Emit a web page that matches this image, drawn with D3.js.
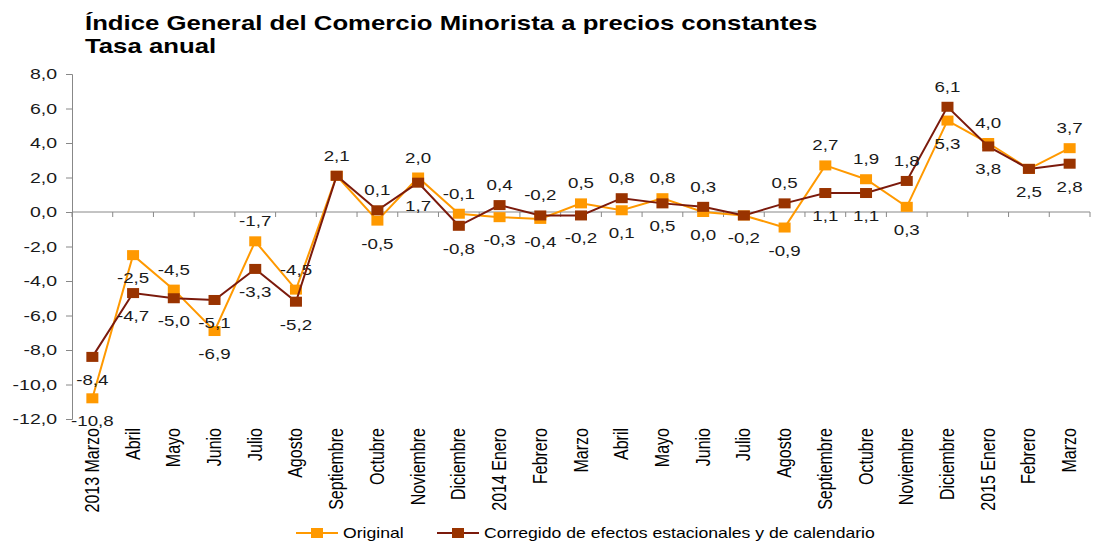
<!DOCTYPE html>
<html>
<head>
<meta charset="utf-8">
<script src="https://cdn.jsdelivr.net/npm/d3@7"></script>
<style>
  body { margin: 0; background: #fff; }
  text { font-family: "Liberation Sans", Arial, sans-serif; fill: #1a1a1a; }
</style>
</head>
<body>
<div id="chart"></div>
<script>
// months shown on the x axis
var months = ["2013 Marzo", "Abril", "Mayo", "Junio", "Julio", "Agosto", "Septiembre", "Octubre",
  "Noviembre", "Diciembre", "2014 Enero", "Febrero", "Marzo", "Abril", "Mayo", "Junio", "Julio",
  "Agosto", "Septiembre", "Octubre", "Noviembre", "Diciembre", "2015 Enero", "Febrero", "Marzo"];

var original = [-10.8, -2.5, -4.5, -6.9, -1.7, -4.5, 2.1, -0.5, 2.0, -0.1, -0.3, -0.4, 0.5,
  0.1, 0.8, 0.0, -0.2, -0.9, 2.7, 1.9, 0.3, 5.3, 4.0, 2.5, 3.7];
var corregido = [-8.4, -4.7, -5.0, -5.1, -3.3, -5.2, 2.1, 0.1, 1.7, -0.8, 0.4, -0.2, -0.2,
  0.8, 0.5, 0.3, -0.2, 0.5, 1.1, 1.1, 1.8, 6.1, 3.8, 2.5, 2.8];

// where each value label sits: a = above the point, b = below, "" = shared with the other series
var posOriginal = ["b","b","a","b","a","a","","b","a","a","b","b","a","b","a","b","","b","a","a","b","b","a","","a"];
var posCorregido = ["b","b","b","b","b","b","a","a","b","b","a","a","b","a","b","a","b","a","b","b","a","a","b","b","b"];

var yTicks = [8, 6, 4, 2, 0, -2, -4, -6, -8, -10, -12];

var W = 1093, H = 541;
var svg = d3.select("#chart").append("svg").attr("width", W).attr("height", H);

var fmt = function (v) { return d3.format(".1f")(v).replace(".", ",").replace("\u2212", "-"); };

// the source picture is stretched sideways, so text gets a horizontal scale
function stext(g, x, y, s, size, sx, anchor) {
  return g.append("text")
    .attr("transform", "translate(" + x + "," + y + ") scale(" + sx + ",1)")
    .attr("text-anchor", anchor || "start")
    .style("font-size", size + "px")
    .text(s);
}

stext(svg, 85, 30, "Índice General del Comercio Minorista a precios constantes", 19.5, 1.32)
  .style("font-weight", "bold").style("fill", "#000");
stext(svg, 85, 53, "Tasa anual", 19.5, 1.32)
  .style("font-weight", "bold").style("fill", "#000");

var x = d3.scaleBand().domain(d3.range(months.length)).range([72, 1090]);
var y = d3.scaleLinear().domain([-12, 8]).range([419, 74]);
var cx = function (i) { return x(i) + x.bandwidth() / 2; };

// y axis
var yAxis = svg.append("g").attr("transform", "translate(72,0)")
  .call(d3.axisLeft(y).tickValues(yTicks).tickSize(6).tickFormat(""));
yAxis.selectAll("path, line").attr("stroke", "#888");
yTicks.forEach(function (t) {
  stext(svg, 57, y(t) + 5, fmt(t), 15, 1.3, "end");
});

// x axis at zero, ticks between months
var xg = svg.append("g");
xg.append("line").attr("x1", 72).attr("x2", 1090).attr("y1", y(0)).attr("y2", y(0)).attr("stroke", "#888");
xg.selectAll(".xt").data(d3.range(months.length + 1)).enter().append("line")
  .attr("x1", function (i) { return 72 + i * x.step(); })
  .attr("x2", function (i) { return 72 + i * x.step(); })
  .attr("y1", y(0)).attr("y2", y(0) + 5).attr("stroke", "#888");

svg.selectAll(".mlabel").data(months).enter().append("text")
  .attr("transform", function (d, i) { return "translate(" + (cx(i) + 6.5) + ",428) rotate(-90) scale(1,1.25)"; })
  .attr("text-anchor", "end")
  .style("font-size", "16px").style("fill", "#000")
  .text(function (d) { return d; });

var line = d3.line().x(function (d, i) { return cx(i); }).y(function (d) { return y(d); });

function drawSeries(vals, pos, lineColor, markColor) {
  svg.append("path").datum(vals).attr("d", line)
    .attr("fill", "none").attr("stroke", lineColor).attr("stroke-width", 2);
  svg.selectAll(null).data(vals).enter().append("rect")
    .attr("x", function (d, i) { return cx(i) - 6; })
    .attr("y", function (d) { return y(d) - 5; })
    .attr("width", 12).attr("height", 10).attr("fill", markColor);
  vals.forEach(function (d, i) {
    if (!pos[i]) return;
    stext(svg, cx(i), pos[i] === "a" ? y(d) - 15 : y(d) + 28, fmt(d), 15, 1.25, "middle");
  });
}

drawSeries(original, posOriginal, "#FF9900", "#FF9900");
drawSeries(corregido, posCorregido, "#7B1A0C", "#993300");

// legend
var legend = [
  { name: "Original", line: "#FF9900", mark: "#FF9900", x: 296 },
  { name: "Corregido de efectos estacionales y de calendario", line: "#7B1A0C", mark: "#993300", x: 437 }
];
legend.forEach(function (d) {
  var g = svg.append("g").attr("transform", "translate(" + d.x + ",533)");
  g.append("line").attr("x1", 0).attr("x2", 42).attr("stroke", d.line).attr("stroke-width", 2);
  g.append("rect").attr("x", 15).attr("y", -5).attr("width", 12).attr("height", 10).attr("fill", d.mark);
  stext(g, 47, 5, d.name, 14, 1.26).style("fill", "#000");
});
</script>
</body>
</html>
